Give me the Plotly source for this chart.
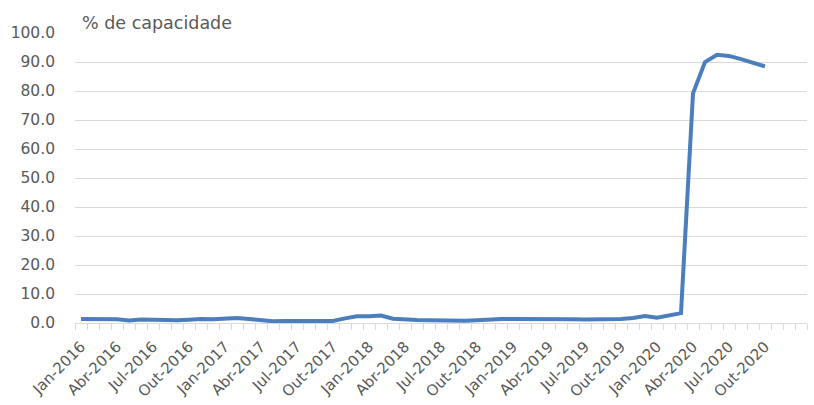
import plotly.graph_objects as go

months_pt = ["Jan", "Fev", "Mar", "Abr", "Mai", "Jun", "Jul", "Ago", "Set", "Out", "Nov", "Dez"]
years = [2016, 2017, 2018, 2019, 2020]
categories = [f"{m}-{y}" for y in years for m in months_pt][:58]  # Jan-2016 .. Out-2020

values = [
    1.4, 1.4, 1.4, 1.3, 0.9, 1.2, 1.1, 0.95, 0.95, 1.15, 1.4, 1.3,   # 2016
    1.6, 1.75, 1.4, 0.9, 0.6, 0.7, 0.7, 0.7, 0.7, 0.7, 1.6, 2.3,     # 2017
    2.3, 2.55, 1.5, 1.2, 1.05, 0.95, 0.85, 0.8, 0.8, 0.95, 1.25, 1.4,  # 2018
    1.4, 1.4, 1.6, 1.4, 1.3, 1.3, 1.2, 1.2, 1.3, 1.4, 1.7, 2.4,      # 2019
    1.8, 2.6, 3.4, 79.2, 90.0, 92.5, 92.1, 91.0, 89.6, 88.5,          # 2020
]

n_slots = 61  # the category axis has three empty slots after Out-2020
label_every = 3
y_ticks = [0, 10, 20, 30, 40, 50, 60, 70, 80, 90, 100]

x_idx = list(range(len(values)))
tickvals = list(range(0, len(categories), label_every))
ticktext = [categories[i] for i in tickvals]

grey_txt = "#595959"
grid = "#d9d9d9"
font_family = "DejaVu Sans, sans-serif"

fig = go.Figure()
fig.add_trace(go.Scatter(
    x=x_idx, y=values, mode="lines",
    line=dict(color="#4a7ebd", width=4),
    hoverinfo="skip", showlegend=False,
))

fig.update_layout(
    width=814, height=405,
    margin=dict(l=75, r=7, t=33, b=82),
    paper_bgcolor="white", plot_bgcolor="white",
    font=dict(family=font_family, color=grey_txt, size=15.5),
    xaxis=dict(
        range=[-0.5, n_slots - 0.5], automargin=False,
        tickmode="array", tickvals=tickvals, ticktext=ticktext,
        tickangle=-45, ticks="", showgrid=False, zeroline=False,
        showline=True, linecolor=grid, linewidth=1,
        tickfont=dict(size=15, color=grey_txt),
        minor=dict(tickmode="linear", tick0=-0.5, dtick=1, ticks="outside",
                   ticklen=6, tickcolor=grid, tickwidth=1, showgrid=False),
        ticklabelstandoff=8,
    ),
    yaxis=dict(
        range=[0, 100], automargin=False, tickmode="array", tickvals=y_ticks,
        ticktext=[f"{v:.1f}" for v in y_ticks],
        showgrid=True, gridcolor=grid, gridwidth=1, zeroline=False,
        showline=False, ticks="", ticklabelstandoff=19,
        tickfont=dict(size=15.5, color=grey_txt),
    ),
    annotations=[dict(
        text="% de capacidade", xref="paper", yref="paper",
        x=(80 - 75) / 732, y=1 + 10.3 / 290, xanchor="left", yanchor="middle",
        showarrow=False, font=dict(size=17.5, color=grey_txt, family=font_family),
    )],
)

fig.write_html("out.html")
